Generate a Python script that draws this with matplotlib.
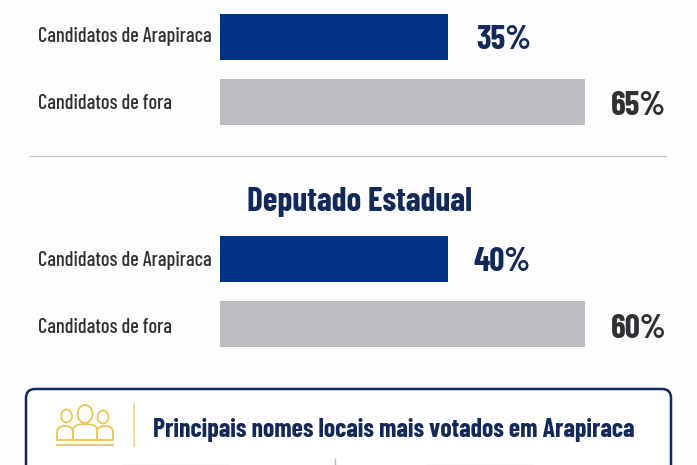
import matplotlib
matplotlib.use("Agg")
import matplotlib.pyplot as plt
from matplotlib.patches import Ellipse, FancyBboxPatch, PathPatch
from matplotlib.path import Path

# bar lengths as drawn in the picture (the blue bars are longer than their labels say)
categories = ["Candidatos de Arapiraca", "Candidatos de fora"]
lengths_top = [40.6, 65]
lengths_bottom = [40.6, 65]
labels_top = ["35%", "65%"]
labels_bottom = ["40%", "60%"]
title_bottom = "Deputado Estadual"
box_title = "Principais nomes locais mais votados em Arapiraca"

W, H = 697, 465
NAVY = "#12295a"
BLUE = "#033385"
GRAY = "#bcbdc1"
DARK = "#2f3033"
GOLD = "#ecc551"

plt.rcParams["font.family"] = ["Barlow Condensed", "Roboto", "DejaVu Sans"]

fig = plt.figure(figsize=(W / 100, H / 100), dpi=100, facecolor="#fdfdfd")

# overlay in pixel coordinates for text and decoration
over = fig.add_axes([0, 0, 1, 1], zorder=3)
over.set_xlim(0, W)
over.set_ylim(H, 0)
over.axis("off")


def bar_panel(top, bottom, lengths, labels, label_x, text_y, num_y):
    ax = fig.add_axes([220 / W, 1 - bottom / H, 365 / W, (bottom - top) / H])
    ax.barh([0, 1], lengths, height=0.71, color=[BLUE, GRAY])
    ax.set_xlim(0, 65)
    ax.set_ylim(1.5, -0.5)
    ax.axis("off")
    for i, name in enumerate(categories):
        over.text(38, text_y[i], name, fontsize=14.6, fontweight=500, color=DARK, va="center", ha="left")
        over.text(label_x[i], num_y[i], labels[i], fontsize=24, fontweight=700,
                  color=NAVY if i == 0 else DARK, va="center", ha="left")


bar_panel(5, 134, lengths_top, labels_top, [476, 611], [37, 103], [40, 105.5])
bar_panel(227, 356, lengths_bottom, labels_bottom, [473, 611], [260, 327], [261.5, 328.5])

over.plot([30, 666], [156, 156], color="#c6c7c9", lw=1)
over.text(360, 202, title_bottom, fontsize=24, fontweight=700, color=NAVY,
          va="center", ha="center")

# box at the bottom, cut off by the edge of the picture
over.add_patch(FancyBboxPatch((26, 389), 645, 120, boxstyle="round,pad=0,rounding_size=9",
                              fc="white", ec=NAVY, lw=1.8, clip_on=True))
over.plot([134, 134], [404, 446], color="#f0d98e", lw=1.3)
over.text(153, 430, box_title, fontsize=18.5, fontweight=700, color=NAVY,
          va="center", ha="left")
over.plot([335, 335], [459, 465], color="#b5b6b8", lw=1)
over.plot([122, 229], [464.5, 464.5], color="#e6e7ea", lw=1)
over.plot([427, 533], [464.5, 464.5], color="#e6e7ea", lw=1)

# people icon
for cx, cy, w, h in [(66.5, 416, 11, 13), (85, 414, 15, 18), (103, 417, 11, 13)]:
    over.add_patch(Ellipse((cx, cy), w, h, fc="none", ec=GOLD, lw=1.3))
for x0, x1, top in [(57, 73, 426), (73, 97, 424), (97, 113, 426)]:
    verts = [(x0, 440), (x0, top + 6), (x0, top), ((x0 + x1) / 2, top), (x1, top), (x1, top + 6), (x1, 440)]
    codes = [Path.MOVETO, Path.LINETO, Path.CURVE3, Path.CURVE3, Path.CURVE3, Path.CURVE3, Path.LINETO]
    over.add_patch(PathPatch(Path(verts, codes), fc="none", ec=GOLD, lw=1.3))
over.plot([57, 113], [440, 440], color=GOLD, lw=1.3)
over.plot([57, 113], [444.5, 444.5], color=GOLD, lw=1.3)

fig.savefig("out.png", dpi=100, facecolor=fig.get_facecolor())
